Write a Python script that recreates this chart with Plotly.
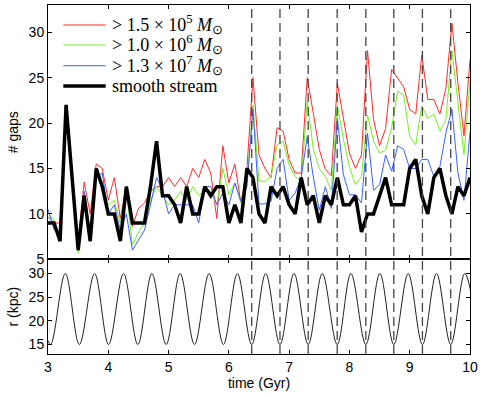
import plotly.graph_objects as go

# ---------------- data ----------------
time_gyr = [round(3.0 + 0.1 * i, 1) for i in range(71)]

gaps_m15e5 = [9.7, 9.0, 9.0, 22.0, 14.0, 7.0, 13.5, 10.0, 15.5, 15.0,
              11.5, 14.0, 9.5, 13.0, 8.6, 10.6, 11.2, 12.5, 13.0, 13.0,
              14.0, 13.0, 14.0, 13.0, 15.0, 14.0, 16.0, 14.5, 9.5, 17.5,
              13.4, 15.5, 11.2, 15.0, 25.0, 16.5, 15.0, 14.0, 19.5, 19.1,
              16.0, 14.5, 14.5, 25.0, 21.1, 17.1, 14.9, 14.2, 24.4, 20.6,
              16.7, 15.0, 16.5, 28.0, 20.4, 17.5, 19.4, 25.9, 25.0, 24.0,
              21.5, 21.0, 27.5, 22.6, 22.6, 21.0, 23.8, 31.0, 24.4, 18.6, 27.0]

gaps_m10e6 = [10.1, 9.3, 7.2, 21.0, 13.5, 5.7, 12.0, 7.0, 14.5, 13.5,
              11.0, 11.5, 9.0, 12.5, 6.6, 8.0, 9.0, 11.5, 13.0, 12.0,
              11.0, 11.5, 12.5, 11.5, 13.0, 12.0, 12.5, 12.5, 11.0, 15.0,
              12.1, 13.4, 11.2, 13.5, 22.0, 13.6, 13.6, 14.1, 17.6, 18.0,
              15.4, 14.1, 13.6, 22.4, 17.2, 15.0, 14.1, 12.6, 22.0, 18.2,
              15.2, 13.2, 14.1, 20.9, 18.0, 16.7, 17.0, 19.5, 23.5, 23.1,
              18.5, 17.6, 21.9, 20.5, 21.0, 19.1, 20.4, 28.0, 22.0, 16.5, 24.6]

gaps_m13e7 = [10.5, 8.3, 7.5, 21.5, 13.5, 6.5, 12.5, 8.0, 14.0, 14.5,
              10.0, 11.0, 8.2, 10.0, 6.0, 7.1, 8.2, 11.0, 14.0, 12.6,
              10.0, 11.0, 11.0, 11.0, 11.0, 9.0, 13.0, 13.0, 11.0, 12.3,
              11.0, 13.4, 11.4, 13.0, 21.5, 11.1, 11.1, 11.4, 15.0, 16.0,
              11.5, 12.3, 14.0, 18.5, 14.1, 10.4, 13.0, 10.6, 20.5, 14.3,
              12.1, 12.1, 11.2, 18.9, 12.6, 13.2, 16.5, 14.7, 17.5, 17.1,
              15.0, 15.0, 16.0, 16.0, 14.1, 15.2, 18.9, 21.5, 14.5, 11.5, 19.0]

gaps_smooth = [9, 9, 7, 22, 14, 6, 12, 7, 15, 13,
               10, 10, 7, 13, 9, 9, 9, 13, 18, 12,
               12, 11, 9, 13, 10, 10, 13, 12, 13, 13,
               9, 11, 9, 15, 14, 10, 9, 13, 12, 13,
               11, 10, 14, 11, 12, 9, 12, 11, 14, 11,
               11, 12, 8, 10, 10, 12, 14, 11, 11, 11,
               15, 16, 12, 10, 14, 15, 12, 10, 13, 12, 14]

# orbit: apocentre / pericentre turning points
orbit_t = [2.80, 3.04, 3.287, 3.52, 3.773, 4.005, 4.253, 4.49, 4.723, 4.96,
           5.192, 5.43, 5.673, 5.91, 6.142, 6.379, 6.611, 6.848, 7.081, 7.316,
           7.55, 7.797, 8.025, 8.272, 8.505, 8.736, 8.975, 9.211, 9.444, 9.68,
           9.913, 10.15]
orbit_r = [30, 15, 30, 15, 30, 15, 30, 15, 30, 15,
           30, 15, 30, 15, 30, 15, 30, 15, 30, 15,
           30, 15, 30, 15, 30, 15, 30, 15, 30, 15,
           30, 15]

# pericentre passages marked with dashed lines
dash_times = [6.379, 6.848, 7.316, 7.797, 8.272, 8.736, 9.211, 9.68]

x_ticks = [3, 4, 5, 6, 7, 8, 9, 10]
gap_ticks = [5, 10, 15, 20, 25, 30]
r_ticks = [15, 20, 25, 30]

labels = ["&gt; 1.5 × 10<sup>5</sup> <i>M</i><sub>⊙</sub>",
          "&gt; 1.0 × 10<sup>6</sup> <i>M</i><sub>⊙</sub>",
          "&gt; 1.3 × 10<sup>7</sup> <i>M</i><sub>⊙</sub>",
          "smooth stream"]
colors = ["#ff2a2a", "#77ee22", "#3a62ff", "#000000"]
widths = [1.0, 1.0, 1.0, 3.5]
series = [gaps_m15e5, gaps_m10e6, gaps_m13e7, gaps_smooth]

# ---------------- figure ----------------
fig = go.Figure()
for lab, col, w, ys in zip(labels, colors, widths, series):
    fig.add_trace(go.Scatter(x=time_gyr, y=ys, mode="lines", name=lab,
                             line=dict(color=col, width=w),
                             showlegend=False, xaxis="x2", yaxis="y2"))

fig.add_trace(go.Scatter(x=orbit_t, y=orbit_r, mode="lines",
                         line=dict(color="#222222", width=1.0, shape="spline", smoothing=1.0),
                         showlegend=False, xaxis="x", yaxis="y"))

shapes = []
for t in dash_times:
    shapes.append(dict(type="line", xref="x", yref="paper", x0=t, x1=t, y0=0, y1=1,
                       line=dict(color="#444444", width=1.3, dash="9px,5px"), layer="above"))

# legend drawn as line samples + labels in the upper-left corner
annotations = []
legend_y = [0.9427, 0.8854, 0.8261, 0.7679]
for lab, col, w, ly in zip(labels, colors, widths, legend_y):
    shapes.append(dict(type="line", xref="paper", yref="paper", x0=0.0363, x1=0.1367,
                       y0=ly, y1=ly, line=dict(color=col, width=w)))
    annotations.append(dict(xref="paper", yref="paper", x=0.147, y=ly, xanchor="left",
                            yanchor="middle", showarrow=False, text=lab,
                            font=dict(family="Liberation Serif, serif", size=18, color="black")))

split = 0.2713
axis_common = dict(showline=True, linecolor="black", linewidth=1, mirror="ticks",
                   ticks="inside", ticklen=4, tickcolor="black", showgrid=False,
                   zeroline=False)

fig.update_layout(
    width=485, height=396,
    margin=dict(l=48, r=15, t=5, b=42),
    paper_bgcolor="white", plot_bgcolor="white",
    font=dict(family="Liberation Sans, Arial, sans-serif", size=14, color="black"),
    shapes=shapes,
    annotations=annotations,
    xaxis=dict(domain=[0, 1], anchor="y", range=[3, 10], tickvals=x_ticks,
               tickfont=dict(size=14),
               title=dict(text="time (Gyr)", standoff=2, font=dict(size=14)), **axis_common),
    xaxis2=dict(domain=[0, 1], anchor="y2", range=[3, 10], matches="x",
                tickvals=x_ticks, showticklabels=False, **axis_common),
    yaxis=dict(domain=[0, split], anchor="x", range=[13, 33], tickvals=r_ticks,
               tickfont=dict(size=14),
               title=dict(text="r (kpc)", standoff=6, font=dict(size=14)), **axis_common),
    yaxis2=dict(domain=[split, 1], anchor="x2", range=[5, 33], tickvals=gap_ticks,
                tickfont=dict(size=14),
                title=dict(text="# gaps", standoff=6, font=dict(size=14)), **axis_common),
    showlegend=False,
)

fig.write_html("out.html", config={"displayModeBar": False},
               post_script="document.body.style.margin='0px';document.body.style.padding='0px';")
